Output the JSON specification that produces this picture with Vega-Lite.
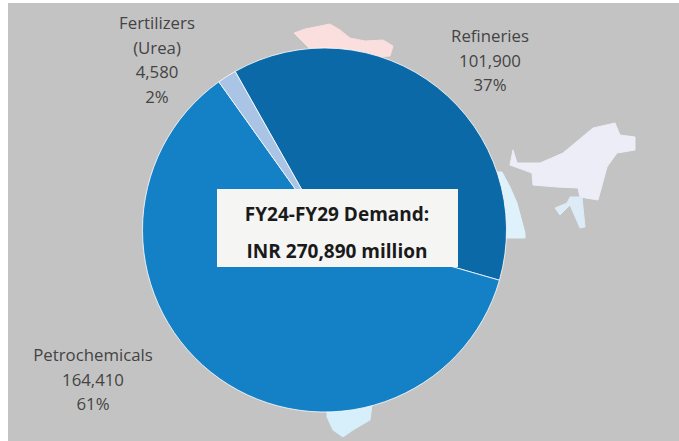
{
  "$schema": "https://vega.github.io/schema/vega-lite/v6.json",
  "width": 679,
  "height": 441,
  "autosize": {"type": "fit", "contains": "padding"},
  "padding": {"left": 8, "top": 3, "right": 0, "bottom": 0},
  "background": "#ffffff",
  "view": {"fill": "#c3c3c3", "stroke": null},
  "datasets": {
    "sectors": [
      {"sector": "Refineries", "value": 101900, "order": 1, "label": "Refineries\n101,900\n37%"},
      {"sector": "Petrochemicals", "value": 164410, "order": 2, "label": "Petrochemicals\n164,410\n61%"},
      {"sector": "Fertilizers (Urea)", "value": 4580, "order": 3, "label": "Fertilizers\n(Urea)\n4,580\n2%"}
    ],
    "map": [
      {"region": "north", "i": 1, "x": 294, "y": 33},{"region": "north", "i": 2, "x": 305, "y": 29},{"region": "north", "i": 3, "x": 315, "y": 27},{"region": "north", "i": 4, "x": 330, "y": 24},{"region": "north", "i": 5, "x": 340, "y": 30},{"region": "north", "i": 6, "x": 350, "y": 38},{"region": "north", "i": 7, "x": 365, "y": 41},{"region": "north", "i": 8, "x": 383, "y": 40},{"region": "north", "i": 9, "x": 393, "y": 46},{"region": "north", "i": 10, "x": 390, "y": 56},{"region": "north", "i": 11, "x": 321, "y": 60},{"region": "north", "i": 12, "x": 294, "y": 33},
      {"region": "east", "i": 1, "x": 510, "y": 165},{"region": "east", "i": 2, "x": 513, "y": 150},{"region": "east", "i": 3, "x": 517, "y": 163},{"region": "east", "i": 4, "x": 540, "y": 163},{"region": "east", "i": 5, "x": 563, "y": 153},{"region": "east", "i": 6, "x": 593, "y": 128},{"region": "east", "i": 7, "x": 615, "y": 123},{"region": "east", "i": 8, "x": 620, "y": 135},{"region": "east", "i": 9, "x": 635, "y": 137},{"region": "east", "i": 10, "x": 635, "y": 150},{"region": "east", "i": 11, "x": 617, "y": 153},{"region": "east", "i": 12, "x": 607, "y": 167},{"region": "east", "i": 13, "x": 598, "y": 200},{"region": "east", "i": 14, "x": 580, "y": 197},{"region": "east", "i": 15, "x": 578, "y": 188},{"region": "east", "i": 16, "x": 557, "y": 187},{"region": "east", "i": 17, "x": 533, "y": 185},{"region": "east", "i": 18, "x": 532, "y": 173},{"region": "east", "i": 19, "x": 510, "y": 165},
      {"region": "northeast", "i": 1, "x": 570, "y": 197},{"region": "northeast", "i": 2, "x": 567, "y": 203},{"region": "northeast", "i": 3, "x": 555, "y": 208},{"region": "northeast", "i": 4, "x": 560, "y": 215},{"region": "northeast", "i": 5, "x": 570, "y": 205},{"region": "northeast", "i": 6, "x": 580, "y": 228},{"region": "northeast", "i": 7, "x": 585, "y": 227},{"region": "northeast", "i": 8, "x": 582, "y": 197},{"region": "northeast", "i": 9, "x": 570, "y": 197},
      {"region": "west", "i": 1, "x": 495, "y": 172},{"region": "west", "i": 2, "x": 502, "y": 172},{"region": "west", "i": 3, "x": 510, "y": 187},{"region": "west", "i": 4, "x": 517, "y": 203},{"region": "west", "i": 5, "x": 525, "y": 233},{"region": "west", "i": 6, "x": 525, "y": 238},{"region": "west", "i": 7, "x": 495, "y": 238},{"region": "west", "i": 8, "x": 495, "y": 172},
      {"region": "south", "i": 1, "x": 327, "y": 405},{"region": "south", "i": 2, "x": 327, "y": 417},{"region": "south", "i": 3, "x": 333, "y": 430},{"region": "south", "i": 4, "x": 343, "y": 437},{"region": "south", "i": 5, "x": 353, "y": 430},{"region": "south", "i": 6, "x": 370, "y": 420},{"region": "south", "i": 7, "x": 372, "y": 405},{"region": "south", "i": 8, "x": 327, "y": 405}
    ]
  },
  "resolve": {"scale": {"color": "independent"}},
  "layer": [
    {
      "data": {"name": "map"},
      "mark": {"type": "line", "interpolate": "linear", "strokeWidth": 1, "fillOpacity": 1},
      "encoding": {
        "x": {"field": "x", "type": "quantitative", "scale": {"domain": [8, 679]}, "axis": null},
        "y": {"field": "y", "type": "quantitative", "scale": {"domain": [441, 3]}, "axis": null},
        "order": {"field": "i", "type": "quantitative"},
        "detail": {"field": "region"},
        "stroke": {"field": "region", "type": "nominal", "legend": null, "scale": {"domain": ["north", "east", "northeast", "west", "south"], "range": ["#fbdede", "#ecedf7", "#dcebf6", "#dff1fa", "#d6effb"]}},
        "fill": {"field": "region", "type": "nominal", "legend": null, "scale": {"domain": ["north", "east", "northeast", "west", "south"], "range": ["#fbdede", "#ecedf7", "#dcebf6", "#dff1fa", "#d6effb"]}}
      }
    },
    {
      "data": {"name": "sectors"},
      "mark": {"type": "arc", "outerRadius": 182, "stroke": "#ffffff", "strokeWidth": 0.8},
      "encoding": {
        "x": {"datum": 324.5, "type": "quantitative", "scale": {"domain": [8, 679]}, "axis": null},
        "y": {"datum": 230, "type": "quantitative", "scale": {"domain": [441, 3]}, "axis": null},
        "theta": {"field": "value", "type": "quantitative", "stack": true, "scale": {"domain": [0, 270890], "range": [-0.513, 5.77]}},
        "order": {"field": "order", "type": "quantitative"},
        "color": {"field": "sector", "type": "nominal", "legend": null, "scale": {"domain": ["Refineries", "Petrochemicals", "Fertilizers (Urea)"], "range": ["#0b69a8", "#1480c6", "#a9c4e4"]}}
      }
    },
    {
      "data": {"values": [{"a": 1}]},
      "mark": {"type": "rect", "fill": "#f5f5f4"},
      "encoding": {
        "x": {"datum": 217, "type": "quantitative", "scale": {"domain": [8, 679]}, "axis": null},
        "x2": {"datum": 458},
        "y": {"datum": 189, "type": "quantitative", "scale": {"domain": [441, 3]}, "axis": null},
        "y2": {"datum": 267}
      }
    },
    {
      "data": {"values": [{"title": "FY24-FY29 Demand:\nINR 270,890 million"}]},
      "mark": {"type": "text", "font": "Open Sans", "fontWeight": "bold", "fontSize": 19, "color": "#1a1a1a", "lineBreak": "\n", "lineHeight": 37, "align": "center", "baseline": "middle"},
      "encoding": {
        "x": {"datum": 337, "type": "quantitative", "scale": {"domain": [8, 679]}, "axis": null},
        "y": {"datum": 215, "type": "quantitative", "scale": {"domain": [441, 3]}, "axis": null},
        "text": {"field": "title"}
      }
    },
    {
      "data": {"name": "sectors"},
      "transform": [{"filter": "datum.order === 1"}],
      "mark": {"type": "text", "font": "Open Sans", "fontSize": 16.8, "color": "#444444", "lineBreak": "\n", "lineHeight": 24.7, "align": "center", "baseline": "middle"},
      "encoding": {
        "x": {"datum": 490, "type": "quantitative", "scale": {"domain": [8, 679]}, "axis": null},
        "y": {"datum": 37, "type": "quantitative", "scale": {"domain": [441, 3]}, "axis": null},
        "text": {"field": "label"}
      }
    },
    {
      "data": {"name": "sectors"},
      "transform": [{"filter": "datum.order === 2"}],
      "mark": {"type": "text", "font": "Open Sans", "fontSize": 16.8, "color": "#444444", "lineBreak": "\n", "lineHeight": 24.7, "align": "center", "baseline": "middle"},
      "encoding": {
        "x": {"datum": 93, "type": "quantitative", "scale": {"domain": [8, 679]}, "axis": null},
        "y": {"datum": 356, "type": "quantitative", "scale": {"domain": [441, 3]}, "axis": null},
        "text": {"field": "label"}
      }
    },
    {
      "data": {"name": "sectors"},
      "transform": [{"filter": "datum.order === 3"}],
      "mark": {"type": "text", "font": "Open Sans", "fontSize": 16.8, "color": "#444444", "lineBreak": "\n", "lineHeight": 24.7, "align": "center", "baseline": "middle"},
      "encoding": {
        "x": {"datum": 157, "type": "quantitative", "scale": {"domain": [8, 679]}, "axis": null},
        "y": {"datum": 24, "type": "quantitative", "scale": {"domain": [441, 3]}, "axis": null},
        "text": {"field": "label"}
      }
    }
  ]
}
